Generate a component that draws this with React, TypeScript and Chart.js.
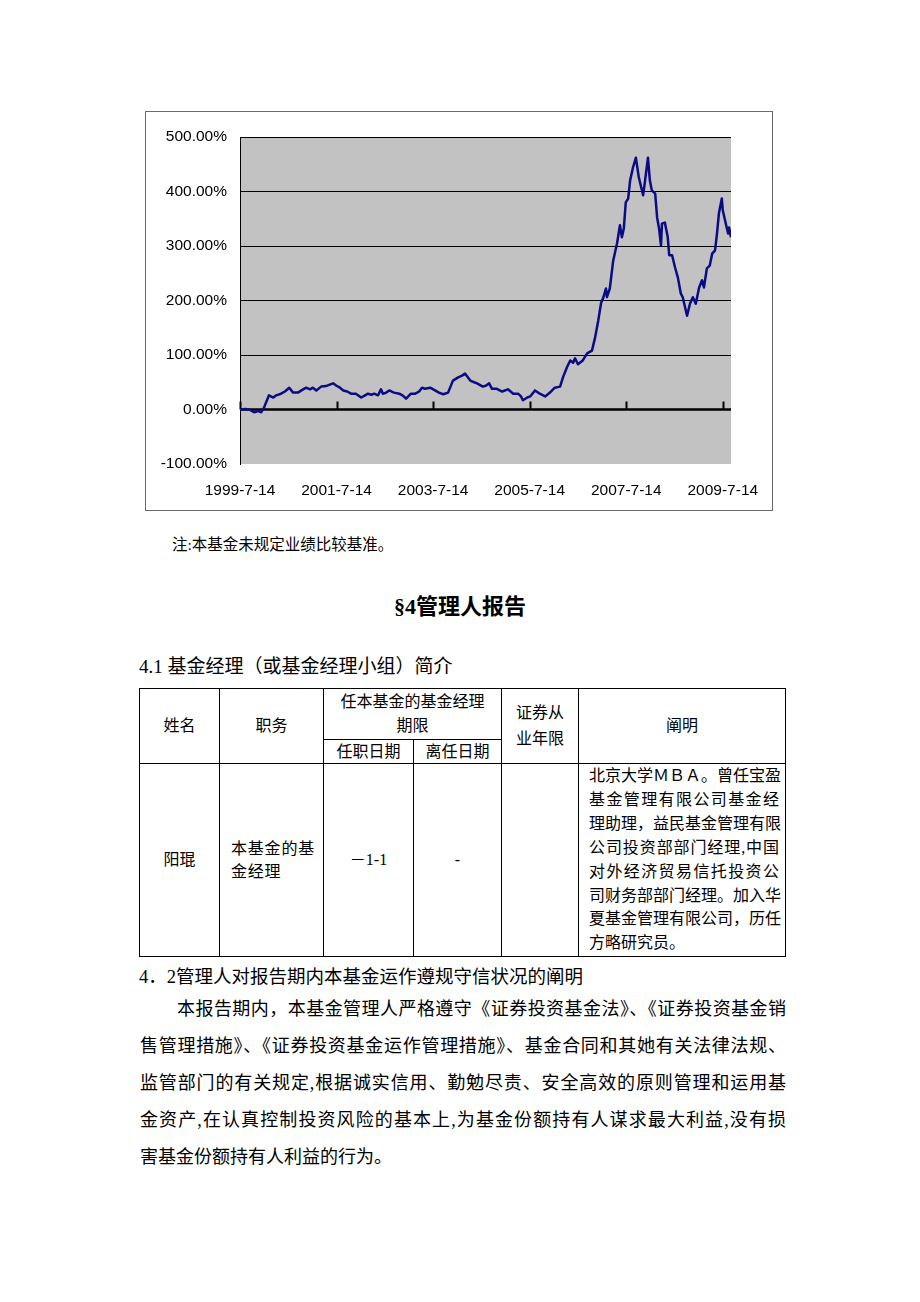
import React, { useEffect, useRef } from 'react';
import { Chart, registerables } from 'chart.js';

Chart.register(...registerables);

// ---- chart data (decimal year, cumulative NAV growth %) ----
const years = [
  1999.53, 1999.64, 1999.72, 1999.82, 1999.91, 1999.97, 2000.03, 2000.13, 2000.22, 2000.28,
  2000.38, 2000.46, 2000.55, 2000.63, 2000.73, 2000.82, 2000.9, 2000.98, 2001.04, 2001.11,
  2001.21, 2001.31, 2001.4, 2001.46, 2001.52, 2001.6, 2001.67, 2001.75, 2001.83, 2001.93,
  2002.04, 2002.12, 2002.18, 2002.25, 2002.31, 2002.39, 2002.45, 2002.49, 2002.56, 2002.62,
  2002.72, 2002.83, 2002.91, 2002.97, 2003.07, 2003.16, 2003.24, 2003.3, 2003.36, 2003.47,
  2003.57, 2003.65, 2003.74, 2003.84, 2003.94, 2004.05, 2004.13, 2004.19, 2004.3, 2004.38,
  2004.44, 2004.56, 2004.63, 2004.69, 2004.75, 2004.85, 2004.96, 2005.08, 2005.19, 2005.29,
  2005.35, 2005.39, 2005.48, 2005.54, 2005.64, 2005.74, 2005.85, 2005.95, 2006.05, 2006.16,
  2006.22, 2006.3, 2006.37, 2006.43, 2006.47, 2006.53, 2006.63, 2006.72, 2006.82, 2006.88,
  2006.95, 2007.01, 2007.05, 2007.11, 2007.13, 2007.19, 2007.26, 2007.34, 2007.4, 2007.44,
  2007.48, 2007.52, 2007.57, 2007.61, 2007.67, 2007.73, 2007.79, 2007.88, 2007.92, 2007.98,
  2008.02, 2008.06, 2008.13, 2008.17, 2008.21, 2008.25, 2008.27, 2008.33, 2008.39, 2008.42,
  2008.48, 2008.54, 2008.6, 2008.66, 2008.7, 2008.75, 2008.79, 2008.85, 2008.91, 2008.97,
  2009.04, 2009.1, 2009.14, 2009.2, 2009.26, 2009.31, 2009.37, 2009.41, 2009.45, 2009.51,
  2009.53, 2009.6, 2009.64, 2009.66, 2009.7,
];

const navGrowth = [
  0, 1, 0, -5, -3, -5, 4, 26, 22, 26,
  29, 33, 40, 31, 31, 36, 40, 37, 40, 35,
  42, 43, 46, 48, 44, 40, 35, 33, 29, 29,
  22, 26, 29, 27, 29, 26, 37, 29, 31, 35,
  31, 29, 25, 20, 29, 29, 33, 40, 38, 40,
  35, 31, 28, 31, 53, 59, 62, 66, 53, 50,
  48, 42, 44, 48, 38, 38, 33, 37, 29, 29,
  24, 17, 22, 24, 35, 29, 24, 31, 40, 42,
  59, 77, 90, 86, 94, 83, 90, 103, 108, 130,
  163, 196, 204, 222, 206, 222, 273, 305, 338, 316,
  332, 380, 387, 420, 444, 462, 426, 393, 420, 462,
  420, 402, 396, 352, 332, 301, 341, 343, 316, 283,
  283, 261, 242, 213, 206, 187, 172, 194, 206, 194,
  224, 237, 224, 259, 264, 286, 292, 323, 360, 387,
  365, 338, 323, 334, 316,
];

const tickYears = [1999.53, 2001.53, 2003.53, 2005.53, 2007.53, 2009.53];
const tickLabels = ['1999-7-14', '2001-7-14', '2003-7-14', '2005-7-14', '2007-7-14', '2009-7-14'];
const xMin = 1999.53;
const xMax = 2009.7;
const yMin = -100;
const yMax = 500;
const yStep = 100;

// ---- table / text content ----
const managerBio = [
  '北京大学ＭＢＡ。曾任宝盈',
  '基金管理有限公司基金经',
  '理助理，益民基金管理有限',
  '公司投资部部门经理,中国',
  '对外经济贸易信托投资公',
  '司财务部部门经理。加入华',
  '夏基金管理有限公司，历任',
  '方略研究员。',
];

const bodyLines = [
  '本报告期内，本基金管理人严格遵守《证券投资基金法》、《证券投资基金销',
  '售管理措施》、《证券投资基金运作管理措施》、基金合同和其她有关法律法规、',
  '监管部门的有关规定,根据诚实信用、勤勉尽责、安全高效的原则管理和运用基',
  '金资产,在认真控制投资风险的基本上,为基金份额持有人谋求最大利益,没有损',
  '害基金份额持有人利益的行为。',
];

const SERIF = '"Liberation Serif", "Noto Sans CJK SC", serif';
const CHART_FONT = '"Liberation Sans", Arial, sans-serif';

function NavChart() {
  const ref = useRef<HTMLCanvasElement | null>(null);
  useEffect(() => {
    if (!ref.current) return;

    const plotBg = {
      id: 'plotBg',
      beforeDraw(chart: any) {
        const { ctx, chartArea: a } = chart;
        ctx.save();
        ctx.fillStyle = '#c2c2c2';
        ctx.fillRect(a.left, a.top, a.right - a.left, a.bottom - a.top);
        ctx.restore();
      },
    };
    const zeroAxis = {
      id: 'zeroAxis',
      beforeDatasetsDraw(chart: any) {
        const { ctx, chartArea: a } = chart;
        const xs = chart.scales.x;
        const ys = chart.scales.y;
        const y0 = ys.getPixelForValue(0);
        ctx.save();
        ctx.strokeStyle = '#000';
        ctx.lineWidth = 2.5;
        ctx.beginPath();
        ctx.moveTo(a.left, y0);
        ctx.lineTo(a.right, y0);
        ctx.stroke();
        ctx.lineWidth = 2;
        xs.ticks.forEach((t: any) => {
          const px = Math.round(xs.getPixelForValue(t.value)) + 0.5;
          ctx.beginPath();
          ctx.moveTo(px, y0);
          ctx.lineTo(px, y0 - 8);
          ctx.stroke();
        });
        ctx.restore();
      },
    };

    const chart = new Chart(ref.current, {
      type: 'line',
      data: {
        datasets: [
          {
            data: years.map((x, i) => ({ x, y: navGrowth[i] })),
            borderColor: '#0b0b84',
            borderWidth: 2.5,
            pointRadius: 0,
            tension: 0,
            fill: false,
            borderJoinStyle: 'round',
          } as any,
        ],
      },
      options: {
        animation: false,
        responsive: false,
        layout: { padding: { top: 25, right: 41, bottom: 0, left: 0 } },
        plugins: { legend: { display: false }, tooltip: { enabled: false } },
        scales: {
          x: {
            type: 'linear',
            min: xMin,
            max: xMax,
            afterBuildTicks: (s: any) => {
              s.ticks = tickYears.map((v) => ({ value: v }));
            },
            afterFit: (s: any) => {
              s.height = 46;
            },
            grid: { display: false },
            border: { display: false },
            ticks: {
              autoSkip: false,
              maxRotation: 0,
              padding: 9,
              color: '#000',
              font: { family: CHART_FONT, size: 15.5 },
              callback: (_v: any, i: number) => tickLabels[i],
            },
          },
          y: {
            min: yMin,
            max: yMax,
            afterFit: (s: any) => {
              s.width = 94;
            },
            grid: {
              drawTicks: false,
              color: (c: any) => (c.tick && c.tick.value === yMin ? 'rgba(0,0,0,0)' : '#000'),
              lineWidth: 1,
            },
            border: { display: true, color: '#000', width: 1 },
            ticks: {
              stepSize: yStep,
              padding: 13,
              color: '#000',
              font: { family: CHART_FONT, size: 15.5 },
              callback: (v: any) => Number(v).toFixed(2) + '%',
            },
          },
        },
      } as any,
      plugins: [plotBg, zeroAxis],
    });
    return () => chart.destroy();
  }, []);

  return (
    <div
      style={{
        position: 'absolute',
        left: 145,
        top: 111,
        width: 626,
        height: 398,
        border: '1px solid #6a6a6a',
        background: '#fff',
      }}
    >
      <canvas ref={ref} width={626} height={398} style={{ display: 'block' }} />
    </div>
  );
}

const cellBase: React.CSSProperties = {
  position: 'absolute',
  boxSizing: 'border-box',
  border: '1px solid #000',
  display: 'flex',
  flexDirection: 'column',
  alignItems: 'center',
  justifyContent: 'center',
  fontSize: 16,
  lineHeight: '24px',
  textAlign: 'center',
};

function Cell(props: { x0: number; x1: number; y0: number; y1: number; children?: React.ReactNode; style?: React.CSSProperties }) {
  const { x0, x1, y0, y1, children, style } = props;
  return (
    <div style={{ ...cellBase, left: x0, top: y0, width: x1 - x0 + 1, height: y1 - y0 + 1, ...style }}>{children}</div>
  );
}

const colX = [139, 219, 323, 413, 501, 578, 785];
const rowY = [688, 739, 763, 956];

export default function App() {
  const jl: React.CSSProperties = {
    position: 'absolute',
    whiteSpace: 'nowrap',
    textAlign: 'justify',
    textAlignLast: 'justify' as any,
  };
  return (
    <div
      style={{
        position: 'absolute',
        left: 0,
        top: 0,
        width: 920,
        height: 1302,
        background: '#fff',
        fontFamily: SERIF,
        color: '#000',
        overflow: 'hidden',
      }}
    >
      <NavChart />

      <div style={{ position: 'absolute', left: 172, top: 535, fontSize: 15.5, lineHeight: '20px', whiteSpace: 'nowrap' }}>
        注:本基金未规定业绩比较基准。
      </div>

      <div
        style={{
          position: 'absolute',
          left: 0,
          width: 920,
          top: 593,
          fontSize: 22,
          lineHeight: '28px',
          fontWeight: 'bold',
          textAlign: 'center',
        }}
      >
        §4管理人报告
      </div>

      <div style={{ position: 'absolute', left: 139, top: 654, fontSize: 19, lineHeight: '26px', whiteSpace: 'nowrap' }}>
        4.1 基金经理（或基金经理小组）简介
      </div>

      {/* table */}
      <Cell x0={colX[0]} x1={colX[1]} y0={rowY[0]} y1={rowY[2]}>姓名</Cell>
      <Cell x0={colX[1]} x1={colX[2]} y0={rowY[0]} y1={rowY[2]}>职务</Cell>
      <Cell x0={colX[2]} x1={colX[4]} y0={rowY[0]} y1={rowY[1]}>
        <div>任本基金的基金经理</div>
        <div>期限</div>
      </Cell>
      <Cell x0={colX[2]} x1={colX[3]} y0={rowY[1]} y1={rowY[2]}>任职日期</Cell>
      <Cell x0={colX[3]} x1={colX[4]} y0={rowY[1]} y1={rowY[2]}>离任日期</Cell>
      <Cell x0={colX[4]} x1={colX[5]} y0={rowY[0]} y1={rowY[2]} style={{ lineHeight: '26px' }}>
        <div>证券从</div>
        <div>业年限</div>
      </Cell>
      <Cell x0={colX[5]} x1={colX[6]} y0={rowY[0]} y1={rowY[2]}>阐明</Cell>

      <Cell x0={colX[0]} x1={colX[1]} y0={rowY[2]} y1={rowY[3]}>阳琨</Cell>
      <Cell
        x0={colX[1]}
        x1={colX[2]}
        y0={rowY[2]}
        y1={rowY[3]}
        style={{ alignItems: 'flex-start', paddingLeft: 11, textAlign: 'left', lineHeight: '23.5px', letterSpacing: 0.8 }}
      >
        <div>本基金的基</div>
        <div>金经理</div>
      </Cell>
      <Cell x0={colX[2]} x1={colX[3]} y0={rowY[2]} y1={rowY[3]}>－1-1</Cell>
      <Cell x0={colX[3]} x1={colX[4]} y0={rowY[2]} y1={rowY[3]}>-</Cell>
      <Cell x0={colX[4]} x1={colX[5]} y0={rowY[2]} y1={rowY[3]} />
      <Cell x0={colX[5]} x1={colX[6]} y0={rowY[2]} y1={rowY[3]} style={{ justifyContent: 'flex-start' }} />
      {managerBio.map((line, i) => (
        <div
          key={i}
          style={{
            ...jl,
            left: 589,
            width: i === managerBio.length - 1 ? undefined : 190,
            textAlignLast: i === managerBio.length - 1 ? 'left' : 'justify',
            top: 764 + i * 23.9,
            fontSize: 16,
            lineHeight: '24px',
          } as any}
        >
          {line}
        </div>
      ))}

      <div style={{ position: 'absolute', left: 139, top: 964, fontSize: 18.5, lineHeight: '26px', whiteSpace: 'nowrap' }}>
        4．2管理人对报告期内本基金运作遵规守信状况的阐明
      </div>

      {bodyLines.map((line, i) => {
        const last = i === bodyLines.length - 1;
        const left = i === 0 ? 177 : 140;
        return (
          <div
            key={i}
            style={{
              ...jl,
              left,
              width: last ? undefined : 786 - left,
              textAlignLast: last ? 'left' : 'justify',
              top: 996 + [0, 37, 74, 111, 148][i],
              fontSize: 18,
              lineHeight: '26px',
            } as any}
          >
            {line}
          </div>
        );
      })}
    </div>
  );
}
